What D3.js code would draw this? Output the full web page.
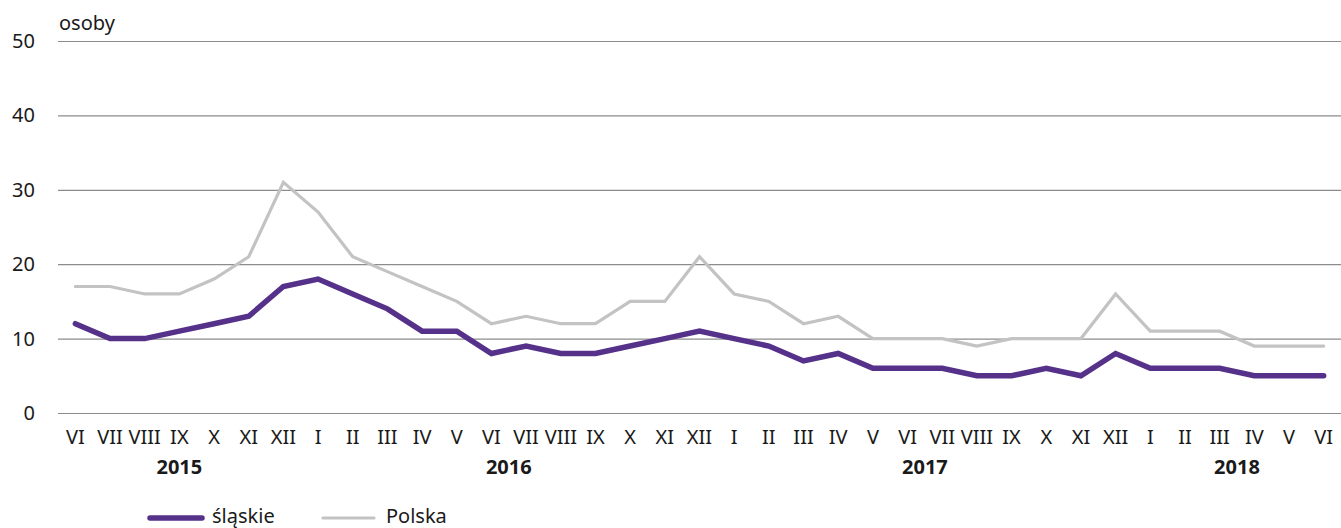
<!DOCTYPE html>
<html>
<head>
<meta charset="utf-8">
<script src="https://cdn.jsdelivr.net/npm/d3@7"></script>
<style>
  body { margin: 0; background: #fff; }
  svg { display: block; font-family: "Noto Sans", sans-serif; }
</style>
</head>
<body>
<div id="chart"></div>
<script>
let months = ["VI","VII","VIII","IX","X","XI","XII",
              "I","II","III","IV","V","VI","VII","VIII","IX","X","XI","XII",
              "I","II","III","IV","V","VI","VII","VIII","IX","X","XI","XII",
              "I","II","III","IV","V","VI"];
let years = ["2015","2016","2017","2018"];
let yearFirstIndex = [0, 7, 19, 31];
let yearLastIndex = [6, 18, 30, 36];

let slaskie = [12,10,10,11,12,13,17,18,16,14,11,11,8,9,8,8,9,10,11,10,9,7,8,6,6,6,5,5,6,5,8,6,6,6,5,5,5];
let polska = [17,17,16,16,18,21,31,27,21,19,17,15,12,13,12,12,15,15,21,16,15,12,13,10,10,10,9,10,10,10,16,11,11,11,9,9,9];

let yTicks = [0,10,20,30,40,50];

let WIDTH = 1341, HEIGHT = 528;
let LEFT = 58, RIGHT = 1341, TOP = 41, BOTTOM = 413;
let FONT = 20;

let svg = d3.select("#chart").append("svg").attr("width", WIDTH).attr("height", HEIGHT);

let xScale = d3.scaleBand().domain(d3.range(months.length)).range([LEFT, RIGHT]);
let xPos = function(i) { return xScale(i) + xScale.bandwidth() / 2; };
let yScale = d3.scaleLinear().domain([0, 50]).range([BOTTOM, TOP]);

// gridlines
svg.append("g").selectAll("line").data(yTicks).enter().append("line")
   .attr("x1", LEFT).attr("x2", RIGHT)
   .attr("y1", function(d) { return yScale(d) + 0.5; })
   .attr("y2", function(d) { return yScale(d) + 0.5; })
   .attr("stroke", "#8c8c8c").attr("stroke-width", 1.2);

// y labels
let yAxis = d3.axisLeft(yScale).tickValues(yTicks).tickSize(0).tickPadding(0);
let yg = svg.append("g").attr("transform", "translate(35,0)").call(yAxis);
yg.select(".domain").remove();
yg.selectAll("text").attr("font-size", FONT).attr("fill", "#1a1a1a").attr("font-family", "Noto Sans");

svg.append("text").attr("x", LEFT + 1).attr("y", 30).attr("font-size", FONT).attr("fill", "#1a1a1a").text("osoby");

// x labels
let xAxis = d3.axisBottom(xScale).tickFormat(function(i) { return months[i]; }).tickSize(0).tickPadding(0);
let xg = svg.append("g").attr("transform", "translate(0,430)").call(xAxis);
xg.select(".domain").remove();
xg.selectAll("text").attr("font-size", FONT).attr("fill", "#1a1a1a").attr("font-family", "Noto Sans").attr("dy", "0.71em");

// years
svg.append("g").selectAll("text").data(years).enter().append("text")
   .attr("x", function(d, i) { return (xPos(yearFirstIndex[i]) + xPos(yearLastIndex[i])) / 2; })
   .attr("y", 474)
   .attr("text-anchor", "middle")
   .attr("font-size", FONT).attr("font-weight", "bold").attr("fill", "#1a1a1a")
   .text(function(d) { return d; });

// lines
let line = d3.line().x(function(d, i) { return xPos(i); }).y(function(d) { return yScale(d); });

svg.append("path").datum(polska).attr("d", line)
   .attr("fill", "none").attr("stroke", "#c3c3c3").attr("stroke-width", 3.2)
   .attr("stroke-linejoin", "miter").attr("stroke-linecap", "round");

svg.append("path").datum(slaskie).attr("d", line)
   .attr("fill", "none").attr("stroke", "#55318a").attr("stroke-width", 5.5)
   .attr("stroke-linejoin", "miter").attr("stroke-linecap", "round");

// legend
let legend = svg.append("g");
legend.append("line").attr("x1", 150).attr("x2", 202).attr("y1", 518).attr("y2", 518)
      .attr("stroke", "#55318a").attr("stroke-width", 5.5).attr("stroke-linecap", "round");
legend.append("text").attr("x", 212).attr("y", 523).attr("font-size", FONT).attr("fill", "#1a1a1a").text("śląskie");
legend.append("line").attr("x1", 323).attr("x2", 374).attr("y1", 518).attr("y2", 518)
      .attr("stroke", "#c3c3c3").attr("stroke-width", 3.2).attr("stroke-linecap", "round");
legend.append("text").attr("x", 386).attr("y", 523).attr("font-size", FONT).attr("fill", "#1a1a1a").text("Polska");
</script>
</body>
</html>
